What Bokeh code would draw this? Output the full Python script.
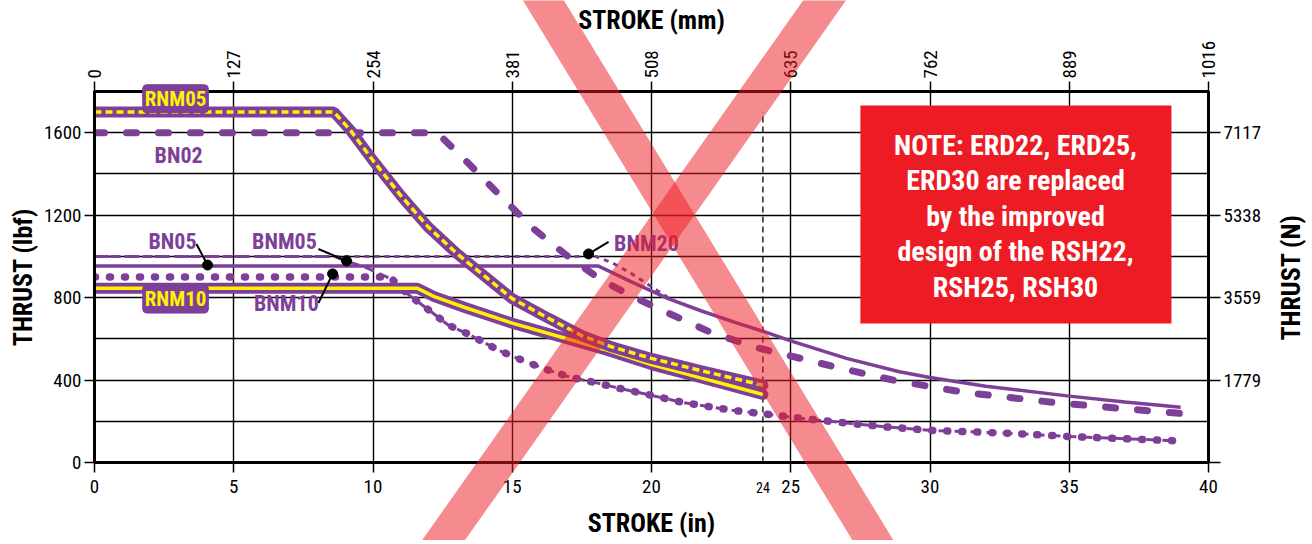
import math
from bokeh.plotting import figure
from bokeh.models import (Range1d, LinearAxis, FixedTicker, Label, BoxAnnotation)
from bokeh.core.properties import value
from bokeh.embed import file_html
from bokeh.resources import INLINE

# ---------------- data ----------------
rnm05_x = [0, 8.6, 9.2, 10, 11, 12, 13, 14, 15, 16.3, 17.5, 18.6, 20, 21.8, 24]
rnm05_y = [1700, 1700, 1610, 1465, 1295, 1140, 1015, 905, 795, 700, 615, 560, 505, 445, 375]

rnm10_x = [0, 11.6, 12.2, 13.3, 15, 16.9, 18.4, 20, 21.8, 24]
rnm10_y = [845, 845, 805, 752, 676, 603, 545, 475, 410, 330]

bn02_x = [0, 12.3, 13.4, 14.6, 15.8, 17, 18.2, 19.4, 20.6, 22.1, 23.7, 24.6, 26.8, 28.7, 31.2, 34.4, 36.8, 39]
bn02_y = [1600, 1600, 1455, 1290, 1130, 1000, 885, 800, 725, 633, 560, 530, 457, 399, 341, 292, 263, 238]

bn05_x = [0, 18.1, 19.3, 20.6, 21.8, 23, 24.2, 25, 27, 28.9, 30, 32, 35, 37, 39]
bn05_y = [953, 953, 875, 795, 735, 680, 628, 590, 505, 440, 412, 370, 322, 293, 268]

bnm20_x = [0, 18.0, 18.6, 19.3, 20.6]
bnm20_y = [1000, 1000, 968, 915, 800]

tail_x = [11.2, 12.1, 12.7, 13.5, 14.5, 15.2, 16.1, 17.1, 18.1, 19.0, 19.7, 21.1, 22.9, 23.9, 25.4, 27.1, 28.5, 30, 33, 35, 38.9]
tail_y = [822, 730, 667, 618, 545, 505, 457, 413, 384, 355, 335, 292, 253, 238, 214, 190, 172, 156, 141, 126, 105]

bnm05_x = [0, 8.6, 9.1, 9.8, 10.5] + tail_x
bnm05_y = [1000, 1000, 975, 943, 900] + tail_y

bnm10_x = [0, 10.6] + tail_x
bnm10_y = [900, 900] + tail_y

x_ticks_in = [0, 5, 10, 15, 20, 25, 30, 35, 40]
x_ticks_mm = ["0", "127", "254", "381", "508", "635", "762", "889", "1016"]
y_ticks_lbf = [0, 400, 800, 1200, 1600]
y_ticks_n = ["", "1779", "3559", "5338", "7117"]
y_grid = [200, 400, 600, 800, 1000, 1200, 1400, 1600, 1800]

note_lines = ["NOTE: ERD22, ERD25,", "ERD30 are replaced", "by the improved",
              "design of the RSH22,", "RSH25, RSH30"]

PURPLE = "#7E3F98"
YELLOW = "#FFF200"
RED = "#ED1C24"
FONT = "Roboto Condensed, Archivo Narrow, sans-serif"

# page geometry (the figure sits at the page origin)
W, H = 1308, 540
ML, MT = 94, 91                 # frame left / top edge
FR, FB = 1208, 462              # frame right / bottom edge
MR, MB = W - FR, H - FB
FW, FH = FR - ML, FB - MT
X0, X1, Y0, Y1 = 0, 40, 0, 1800
sx = FW / (X1 - X0)
sy = FH / (Y1 - Y0)

p = figure(width=W, height=H, x_range=Range1d(X0, X1), y_range=Range1d(Y0, Y1),
           output_backend="svg", toolbar_location=None,
           min_border_left=ML, min_border_right=MR, min_border_top=MT, min_border_bottom=MB)
p.outline_line_color = "black"
p.outline_line_width = 3
p.background_fill_color = "white"
p.border_fill_color = "white"

def style_axis(ax, ticks, overrides=None, tick_out=10):
    ax.ticker = FixedTicker(ticks=ticks)
    if overrides:
        ax.major_label_overrides = overrides
    ax.axis_line_width = 3
    ax.axis_line_color = "black"
    ax.major_tick_line_width = 1.5
    ax.major_tick_line_color = "black"
    ax.major_tick_out = tick_out
    ax.major_tick_in = 0
    ax.minor_tick_line_color = None
    ax.major_label_text_font = FONT
    ax.major_label_text_font_size = "19px"
    ax.major_label_text_color = "black"
    ax.major_label_standoff = 3
    ax.axis_label_text_font = FONT
    ax.axis_label_text_font_size = "26px"
    ax.axis_label_text_font_style = "bold"
    ax.axis_label_text_color = "black"

style_axis(p.xaxis[0], x_ticks_in)
p.xaxis[0].axis_label = "STROKE (in)"
p.xaxis[0].major_label_standoff = 7
p.xaxis[0].axis_label_standoff = 12
style_axis(p.yaxis[0], y_ticks_lbf)
p.yaxis[0].axis_label = "THRUST (lbf)"
p.yaxis[0].axis_label_standoff = 3

top = LinearAxis(axis_label="STROKE (mm)")
style_axis(top, x_ticks_in, {t: s for t, s in zip(x_ticks_in, x_ticks_mm)})
top.major_label_orientation = "vertical"
top.axis_label_standoff = 3
p.add_layout(top, "above")

right = LinearAxis()
style_axis(right, y_ticks_lbf, {t: s for t, s in zip(y_ticks_lbf, y_ticks_n)}, tick_out=12)
p.add_layout(right, "right")

p.xgrid.ticker = FixedTicker(ticks=x_ticks_in)
p.ygrid.ticker = FixedTicker(ticks=y_grid)
for g in (p.xgrid[0], p.ygrid[0]):
    g.grid_line_color = "black"
    g.grid_line_width = 1.4
    g.grid_line_alpha = 1

# vertical dashed marker at 24 in
p.segment(x0=[24], y0=[0], x1=[24], y1=[1700], line_color="black", line_width=1.3, line_dash="6 4")

# curves
p.line(bn02_x, bn02_y, line_color=PURPLE, line_width=7, line_dash="10 22", line_cap="round")
p.line(bn05_x, bn05_y, line_color=PURPLE, line_width=3.5)
p.line(bnm20_x, bnm20_y, line_color=PURPLE, line_width=3, line_dash="5 5")
p.line(bnm10_x, bnm10_y, line_color=PURPLE, line_width=7.5, line_dash="1 14", line_cap="round")
p.line(bnm05_x, bnm05_y, line_color=PURPLE, line_width=3, line_dash="10 6")
p.line(rnm10_x, rnm10_y, line_color=PURPLE, line_width=11, line_cap="round")
p.line(rnm10_x, rnm10_y, line_color=YELLOW, line_width=3.5)
p.line(rnm05_x, rnm05_y, line_color=PURPLE, line_width=11, line_cap="round")
p.line(rnm05_x, rnm05_y, line_color=YELLOW, line_width=3.5, line_dash="7 4")

# pointers
ptr_x0 = [3.66, 8.04, 8.04, 18.46]
ptr_y0 = [1060, 1036, 774, 1070]
ptr_x1 = [4.06, 9.05, 8.55, 17.74]
ptr_y1 = [958, 978, 915, 1012]
p.segment(x0=ptr_x0, y0=ptr_y0, x1=ptr_x1, y1=ptr_y1, line_color="black", line_width=2)
p.scatter(ptr_x1, ptr_y1, size=10, color="black")

# curve labels
lab_txt = ["BN02", "BN05", "BNM05", "BNM10", "BNM20"]
lab_x = [3.02, 2.80, 6.82, 6.89, 19.82]
lab_y = [1489, 1072, 1072, 771, 1063]
p.text(lab_x, lab_y, text=lab_txt, text_color=PURPLE, text_font=value(FONT),
       text_font_size="22px", text_font_style="bold", text_align="center", text_baseline="middle")

# note box
p.add_layout(BoxAnnotation(left=27.5, right=38.67, bottom=674, top=1732,
                           fill_color=RED, fill_alpha=1, line_color=None, level="annotation"))
note_y = [1538 - 172 * i for i in range(len(note_lines))]
for t, ny in zip(note_lines, note_y):
    p.add_layout(Label(x=33.07, y=ny, text=t, text_color="white", text_font=FONT,
                       text_font_size="28px", text_font_style="bold",
                       text_align="center", text_baseline="middle", level="overlay"))

# ---------- transparent overlay figure covering the whole canvas (same data mapping) ----------
q = figure(width=W, height=H,
           x_range=Range1d(X0 - ML / sx, X1 + MR / sx), y_range=Range1d(Y0 - MB / sy, Y1 + MT / sy),
           output_backend="svg", toolbar_location=None, x_axis_location=None, y_axis_location=None,
           min_border=0, min_border_left=0, min_border_right=0, min_border_top=0, min_border_bottom=0,
           styles={"position": "absolute", "top": "0px", "left": "0px", "z-index": "10"})
q.grid.visible = False
q.outline_line_color = None
q.background_fill_color = None
q.border_fill_color = None

def to_data(px, py):
    return (px - ML) / sx + X0, (FB - py) / sy + Y0

# big red X stamp (page pixel geometry -> data)
stripes = [((543, 0), (875, 544)), ((824, 0), (440, 544))]
half = 17.5
xs_all, ys_all = [], []
for (ax_, ay_), (bx_, by_) in stripes:
    dx, dy = bx_ - ax_, by_ - ay_
    L = math.hypot(dx, dy)
    ux, uy = dx / L, dy / L
    nx, ny = -uy * half, ux * half
    a2 = (ax_ - ux * 40, ay_ - uy * 40)
    b2 = (bx_ + ux * 40, by_ + uy * 40)
    pts = [(a2[0] + nx, a2[1] + ny), (b2[0] + nx, b2[1] + ny), (b2[0] - nx, b2[1] - ny), (a2[0] - nx, a2[1] - ny)]
    xs, ys = zip(*[to_data(a, b) for a, b in pts])
    xs_all.append(list(xs)); ys_all.append(list(ys))

# RNM labels (the upper one overlaps the frame border)
q.text([2.91, 2.91], [1765, 793], text=["RNM05", "RNM10"], text_color=YELLOW, text_font=value(FONT),
       text_font_size="21px", text_font_style="bold", text_align="center", text_baseline="middle",
       background_fill_color=PURPLE, border_line_color=PURPLE, padding=2, border_radius=4)
# small "24" under the axis, right axis title
q.text([24], [-122], text=["24"], text_font=value(FONT), text_font_size="14px",
       text_align="center", text_baseline="middle", text_color="black")
rx, ry = to_data(1290, 277)
q.text([rx], [ry], text=["THRUST (N)"], text_font=value(FONT), text_font_size="26px",
       text_font_style="bold", angle=math.pi / 2, text_align="center", text_baseline="middle",
       text_color="black")
q.patches(xs_all, ys_all, fill_color=RED, fill_alpha=0.51, line_color=None)

open("out.html", "w").write(file_html([p, q], INLINE))
